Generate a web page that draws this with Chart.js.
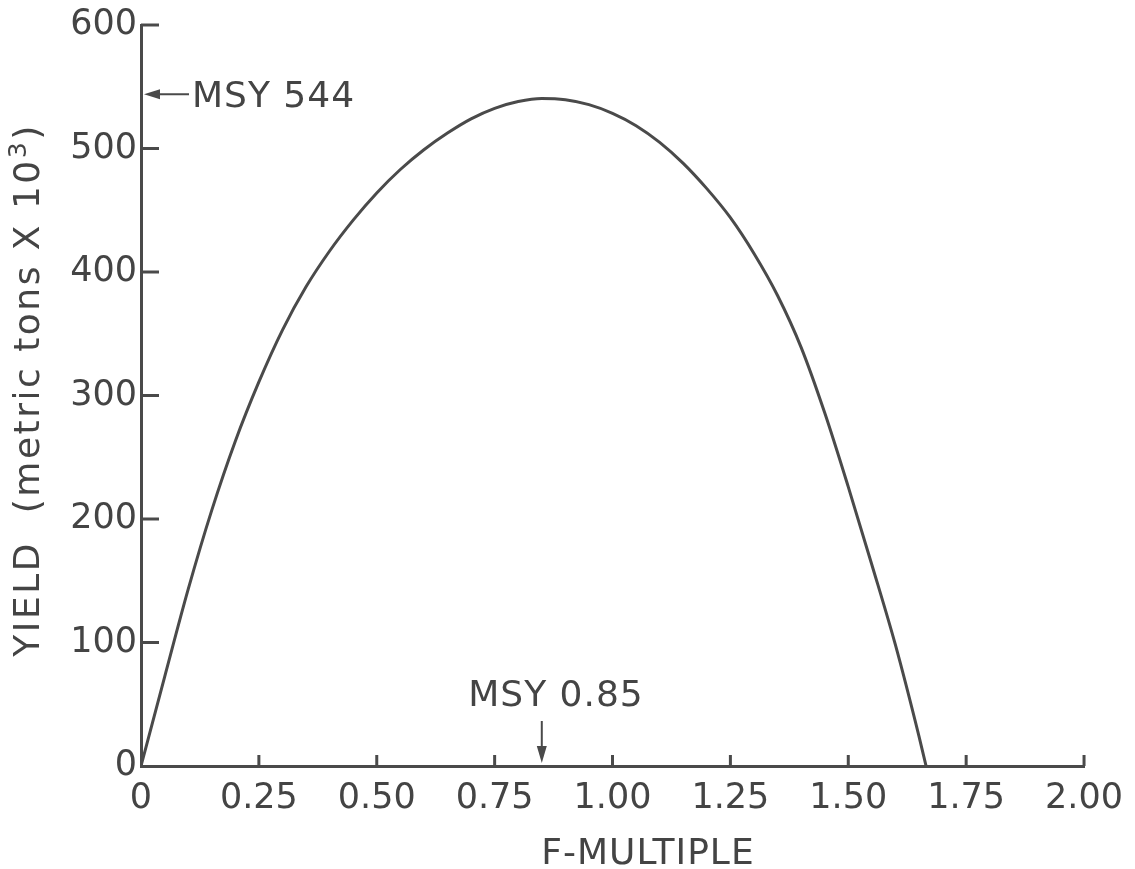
<!DOCTYPE html>
<html>
<head>
<meta charset="utf-8">
<script src="https://cdn.jsdelivr.net/npm/chart.js@4.4.0/dist/chart.umd.min.js"></script>
<style>
  html, body { margin: 0; padding: 0; background: #fff; }
  #wrap { width: 1135px; height: 869px; }
</style>
</head>
<body>
<div id="wrap"><canvas id="yield-curve"></canvas></div>
<script>
// F-multiple vs yield (metric tons x 10^3)
var fMultiple = [0, 0.05, 0.10, 0.15, 0.20, 0.25, 0.30, 0.35, 0.40, 0.45, 0.50, 0.55, 0.60, 0.65, 0.70, 0.75, 0.80, 0.85, 0.90, 0.95, 1.00, 1.05, 1.10, 1.15, 1.20, 1.25, 1.30, 1.35, 1.40, 1.45, 1.50, 1.55, 1.60, 1.65, 1.665];
var yieldValues = [0, 72, 143, 207, 263, 311, 353, 388, 417, 442, 464, 483, 499, 512.5, 524, 532.5, 538, 540.5, 539.5, 535.5, 528.5, 518.5, 505, 488, 467.5, 444, 415, 381, 339, 286, 226, 163, 98, 24, 0];

var xTicks = [0, 0.25, 0.50, 0.75, 1.00, 1.25, 1.50, 1.75, 2.00];
var xTickLabels = ['0', '0.25', '0.50', '0.75', '1.00', '1.25', '1.50', '1.75', '2.00'];
var yTicks = [0, 100, 200, 300, 400, 500, 600];

var msyYield = 544;
var msyF = 0.85;

var ink = '#4a4a4a';
var textInk = '#444';
var fontFamily = '"DejaVu Sans", sans-serif';

var points = [];
for (let i in fMultiple) {
	points.push({x: fMultiple[i], y: yieldValues[i]});
}

// inward tick marks, arrows and the hand lettered labels
var annotations = {
	id: 'annotations',
	afterDatasetsDraw: function(chart) {
		var ctx = chart.ctx;
		var xs = chart.scales.x;
		var ys = chart.scales.y;
		var area = chart.chartArea;

		ctx.save();
		ctx.strokeStyle = ink;
		ctx.lineWidth = 3;
		ctx.lineCap = 'butt';

		// y ticks point right
		for (let v of yTicks) {
			if (v === 0) continue;
			var py = ys.getPixelForValue(v);
			ctx.beginPath();
			ctx.moveTo(area.left, py);
			ctx.lineTo(area.left + 18, py);
			ctx.stroke();
		}
		// x ticks point up
		for (let v of xTicks) {
			if (v === 0) continue;
			var px = xs.getPixelForValue(v);
			ctx.beginPath();
			ctx.moveTo(px, area.bottom);
			ctx.lineTo(px, area.bottom - 11);
			ctx.stroke();
		}

		ctx.fillStyle = ink;
		ctx.lineWidth = 2;

		// MSY 544 arrow
		var ay = ys.getPixelForValue(msyYield);
		ctx.beginPath();
		ctx.moveTo(area.left + 48, ay);
		ctx.lineTo(area.left + 12, ay);
		ctx.stroke();
		ctx.beginPath();
		ctx.moveTo(area.left + 3, ay);
		ctx.lineTo(area.left + 19, ay - 5);
		ctx.lineTo(area.left + 19, ay + 5);
		ctx.closePath();
		ctx.fill();

		// MSY 0.85 arrow
		var ax = xs.getPixelForValue(msyF);
		ctx.beginPath();
		ctx.moveTo(ax, 721);
		ctx.lineTo(ax, area.bottom - 14);
		ctx.stroke();
		ctx.beginPath();
		ctx.moveTo(ax, area.bottom - 3);
		ctx.lineTo(ax - 5, area.bottom - 20);
		ctx.lineTo(ax + 5, area.bottom - 20);
		ctx.closePath();
		ctx.fill();

		ctx.fillStyle = textInk;
		ctx.font = '36px ' + fontFamily;
		ctx.letterSpacing = '1px';
		ctx.textBaseline = 'middle';
		ctx.textAlign = 'left';
		ctx.fillText('MSY 544', area.left + 51, ay + 3);

		ctx.textAlign = 'center';
		ctx.fillText('MSY 0.85', 556, 697);
		ctx.fillText('F-MULTIPLE', 648, 855);

		// y title, rotated, with superscript 3
		ctx.translate(28, 390);
		ctx.rotate(-Math.PI / 2);
		ctx.textAlign = 'left';
		ctx.letterSpacing = '2.5px';
		ctx.font = '36px ' + fontFamily;
		var main = 'YIELD  (metric tons X 10';
		var sup = '3';
		var tail = ')';
		var wMain = ctx.measureText(main).width;
		ctx.font = '25px ' + fontFamily;
		var wSup = ctx.measureText(sup).width;
		ctx.font = '36px ' + fontFamily;
		var wTail = ctx.measureText(tail).width;
		var start = -(wMain + wSup + wTail) / 2;
		ctx.fillText(main, start, 2);
		ctx.font = '25px ' + fontFamily;
		ctx.fillText(sup, start + wMain, -9);
		ctx.font = '36px ' + fontFamily;
		ctx.fillText(tail, start + wMain + wSup, 2);

		ctx.restore();
	}
};

var ctx = document.getElementById('yield-curve');

var chart = new Chart(ctx, {
	type: 'line',
	data: {
		datasets: [
			{
				label: 'Yield',
				data: points,
				borderColor: ink,
				borderWidth: 3,
				pointRadius: 0,
				fill: false,
				cubicInterpolationMode: 'monotone'
			}
		]
	},
	options: {
		responsive: true,
		maintainAspectRatio: false,
		animation: false,
		layout: { padding: { top: 23, right: 48, left: 0, bottom: 0 } },
		plugins: {
			legend: { display: false },
			tooltip: { enabled: false }
		},
		scales: {
			x: {
				type: 'linear',
				min: 0,
				max: 2,
				afterFit: function(scale) { scale.height = 103; },
				afterBuildTicks: function(scale) {
					scale.ticks = xTicks.map(function(v) { return {value: v}; });
				},
				ticks: {
					color: textInk,
					padding: 12,
					maxRotation: 0,
					font: { family: fontFamily, size: 35 },
					callback: function(value, index) { return xTickLabels[index]; }
				},
				grid: { drawOnChartArea: false, drawTicks: false },
				border: { display: true, color: ink, width: 3 }
			},
			y: {
				min: 0,
				max: 600,
				afterFit: function(scale) { scale.width = 141; },
				afterBuildTicks: function(scale) {
					scale.ticks = yTicks.map(function(v) { return {value: v}; });
				},
				ticks: {
					color: textInk,
					padding: 4,
					font: { family: fontFamily, size: 35 }
				},
				grid: { drawOnChartArea: false, drawTicks: false },
				border: { display: true, color: ink, width: 3 }
			}
		}
	},
	plugins: [annotations]
});
</script>
</body>
</html>
